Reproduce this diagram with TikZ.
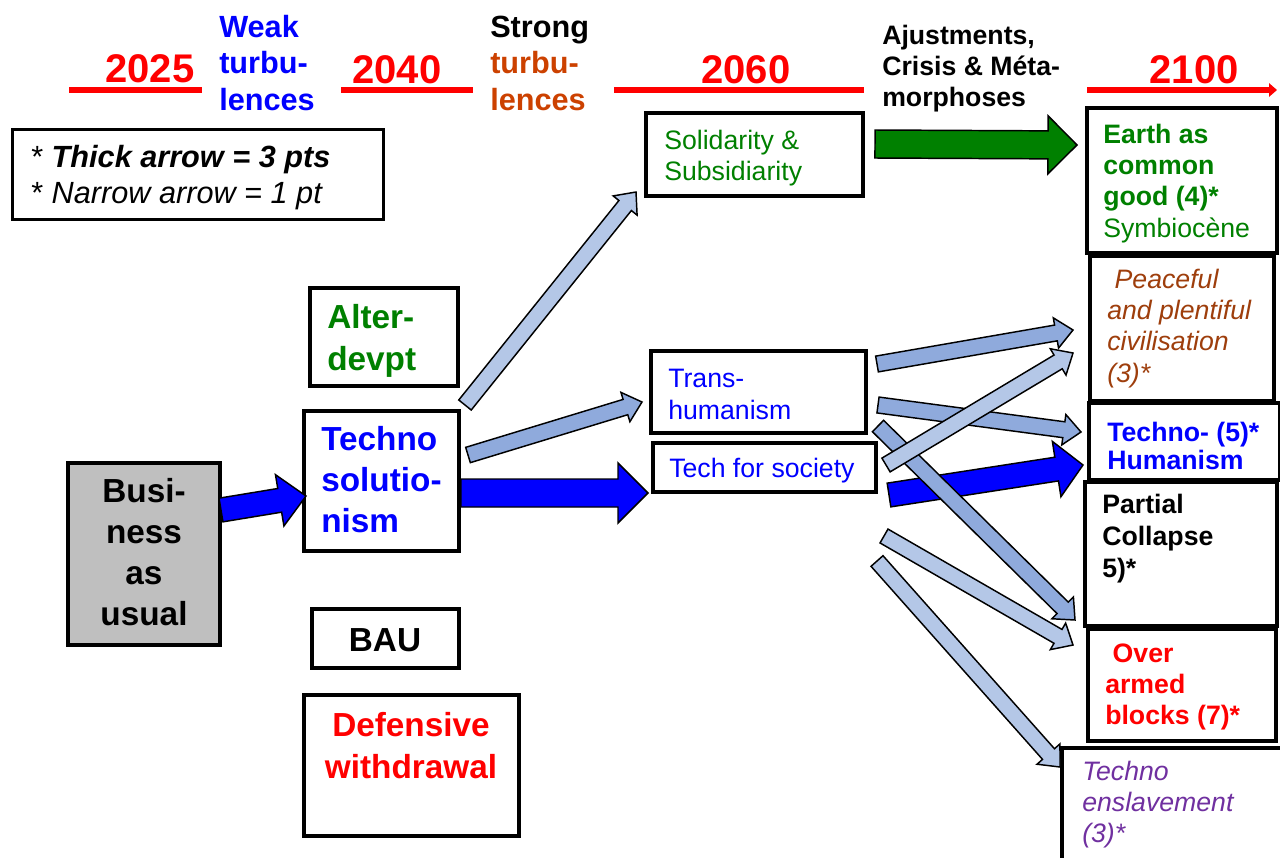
\documentclass[tikz,border=0pt]{standalone}
\usepackage{fontspec}
\setmainfont{Liberation Sans}
\usetikzlibrary{calc,fit,arrows.meta}
\definecolor{myred}{RGB}{255,0,0}
\definecolor{myblue}{RGB}{0,0,255}
\definecolor{mygreen}{RGB}{0,128,0}
\definecolor{orng}{RGB}{204,65,0}
\definecolor{brwn}{RGB}{158,62,12}
\definecolor{purp}{RGB}{112,48,160}
\definecolor{grayfill}{RGB}{191,191,191}
\definecolor{lightarr}{RGB}{180,199,231}
\definecolor{medarr}{RGB}{143,170,220}
\newcommand{\mlL}[2]{\vtop{\baselineskip=#1\lineskiplimit=-100pt\lineskip=0pt\halign{##\hfil\cr#2\crcr}}}
\newcommand{\mlC}[2]{\vtop{\baselineskip=#1\lineskiplimit=-100pt\lineskip=0pt\halign{\hfil##\hfil\cr#2\crcr}}}
% block arrow: from, to, shaft half width, head half width, head length, fill
\newcommand{\blkarrow}[6]{%
  \path ($(#2)!#5!(#1)$) coordinate (hb);
  \filldraw[fill=#6, draw=black, line width=1.1pt, line join=miter]
    ($(#1)!#3!90:(#2)$) -- ($(hb)!#3!90:(#2)$) -- ($(hb)!#4!90:(#2)$) -- (#2)
    -- ($(hb)!#4!-90:(#2)$) -- ($(hb)!#3!-90:(#2)$) -- ($(#1)!#3!-90:(#2)$) -- cycle;
}
\newcommand{\narrarr}[3]{\blkarrow{#1}{#2}{6pt}{11.5pt}{13pt}{#3}}
\begin{document}
\begin{tikzpicture}[x=0.75pt,y=-0.75pt,
  box/.style={draw=black, line width=3pt, inner sep=0pt, fill=white},
  txt/.style={inner sep=0pt, anchor=base west},
  ctxt/.style={inner sep=0pt, anchor=base},
  yearf/.style={font=\fontsize{30pt}{36pt}\selectfont\bfseries, text=myred},
  headf/.style={font=\fontsize{23pt}{27pt}\selectfont\bfseries},
  midbf/.style={font=\fontsize{20pt}{24pt}\selectfont\bfseries},
  midf/.style={font=\fontsize{20pt}{24pt}\selectfont},
  bigf/.style={font=\fontsize{25pt}{30pt}\selectfont\bfseries},
  tline/.style={draw=myred, line width=4.5pt}]
\clip (0,0) rectangle (1280,857);
\fill[white] (0,0) rectangle (1280,857);

% ---------- timeline ----------
\draw[tline] (69,90) -- (202,90);
\draw[tline] (341,90) -- (473,90);
\draw[tline] (614,90) -- (864,90);
\draw[tline, -{Triangle[length=6pt,width=10pt]}] (1087,90) -- (1277,90);
\node[ctxt, yearf] (y2025) at (150,82) {2025};
\node[ctxt, yearf] (y2040) at (397,83) {2040};
\node[ctxt, yearf] (y2060) at (746,83) {2060};
\node[ctxt, yearf] (y2100) at (1194,83) {2100};
\node[txt, headf, text=myblue] (weak) at (219,37) {\mlL{27.4pt}{Weak\cr turbu-\cr lences}};
\node[txt, headf, text=black] (strong) at (490,37) {\mlL{27.4pt}{Strong\cr\textcolor{orng}{turbu-}\cr\textcolor{orng}{lences}}};
\node[txt, midbf, text=black] (ajust) at (882,44) {\mlL{23.6pt}{Ajustments,\cr Crisis \& Méta-\cr morphoses}};

% ---------- legend ----------
\node[box, line width=2.25pt, fit={(12,129) (383,219)}] (legend) {};
\node[txt, font=\fontsize{23pt}{27pt}\selectfont] (leg1) at (31,167) {* \textbf{\textit{Thick arrow = 3 pts}}};
\node[txt, font=\fontsize{23pt}{27pt}\selectfont] (leg2) at (31,203) {* \textit{Narrow arrow = 1 pt}};

% ---------- boxes ----------
\node[box, fit={(646,113) (863,196)}] (solid) {};
\node[box, fit={(310,288) (458,386)}] (alter) {};
\node[box, fit={(304,411) (459,551)}] (techno) {};
\node[box, fill=grayfill, fit={(68,463) (220,645)}] (busi) {};
\node[box, fit={(312,609) (459,668)}] (bau) {};
\node[box, fit={(304,695) (519,836)}] (defens) {};
\node[box, fit={(651,351) (866,433)}] (trans) {};
\node[box, fit={(653,443) (876,492)}] (tfs) {};
\node[box, line width=3.5pt, fit={(1087,108) (1277,253)}] (earth) {};
\node[box, line width=3.5pt, fit={(1090,256) (1274,401)}] (peace) {};
\node[box, line width=3.5pt, fit={(1089,403) (1280,480)}] (th) {};
\node[box, line width=3.5pt, fit={(1085,482) (1277,626)}] (partial) {};
\node[box, line width=3.5pt, fit={(1088,629) (1276,741)}] (over) {};
\node[box, line width=3.5pt, fit={(1062,748) (1285,870)}] (ens) {};

% ---------- arrow end points ----------
\coordinate (bauS) at (221,510);   \coordinate (bauE) at (306,496);
\coordinate (tsS) at (461,493);    \coordinate (tsE) at (648,493);
\coordinate (seS) at (875,144);    \coordinate (seE) at (1077,145);
\coordinate (thS) at (889,495);    \coordinate (thE) at (1083,465);
\coordinate (solS) at (465,405);   \coordinate (solE) at (636,192);
\coordinate (trS) at (468,455);    \coordinate (trE) at (642,402);
\coordinate (aS) at (877,364);     \coordinate (aE) at (1073,330);
\coordinate (bS) at (878,405);     \coordinate (bE) at (1081,432);
\coordinate (cS) at (886,465);     \coordinate (cE) at (1073,353);
\coordinate (dS) at (878,426);     \coordinate (dE) at (1075,620);
\coordinate (fS) at (884,536);     \coordinate (fE) at (1073,645);
\coordinate (gS) at (877,561);     \coordinate (gE) at (1060,767);

% ---------- arrows ----------
\blkarrow{bauS}{bauE}{9pt}{19.5pt}{20pt}{myblue}
\blkarrow{tsS}{tsE}{10.5pt}{22.5pt}{22.5pt}{myblue}
\blkarrow{seS}{seE}{10.5pt}{21.75pt}{21.75pt}{mygreen}
\narrarr{solS}{solE}{lightarr}
\narrarr{trS}{trE}{medarr}
\narrarr{bS}{bE}{medarr}
\blkarrow{thS}{thE}{9pt}{21pt}{20pt}{myblue}
\narrarr{fS}{fE}{lightarr}
\narrarr{dS}{dE}{medarr}
\narrarr{cS}{cE}{lightarr}
\narrarr{aS}{aE}{medarr}
\narrarr{gS}{gE}{lightarr}

% ---------- box texts ----------
\node[txt, midf, text=mygreen] (solidt) at (664,149) {\mlL{23.25pt}{Solidarity \&\cr Subsidiarity}};
\node[txt, bigf, text=mygreen] (altert) at (327,328) {\mlL{31.5pt}{Alter-\cr devpt}};
\node[txt, bigf, text=myblue] (technot) at (321,450) {\mlL{31pt}{Techno\cr solutio-\cr nism}};
\node[ctxt, bigf, text=black] (busit) at (144,502) {\mlC{30.75pt}{Busi-\cr ness\cr as\cr usual}};
\node[ctxt, bigf, text=black] (baut) at (385,651) {BAU};
\node[ctxt, bigf, text=myred] (defenst) at (411,736) {\mlC{31.5pt}{Defensive\cr withdrawal}};
\node[txt, midf, text=myblue] (transt) at (668,387) {\mlL{24pt}{Trans-\cr humanism}};
\node[txt, midf, text=myblue] (tfst) at (669,477) {Tech for society};
\node[txt, midf, text=mygreen] (eartht) at (1103,143) {\mlL{23.6pt}{\textbf{Earth as}\cr\textbf{common}\cr\textbf{good (4)*}\cr Symbiocène}};
\node[txt, midf, text=brwn, font=\fontsize{20pt}{24pt}\selectfont\itshape] (peacet) at (1107,288) {\mlL{23.6pt}{\ Peaceful\cr and plentiful\cr civilisation\cr (3)*}};
\node[txt, midbf, text=myblue] (tht) at (1107,441) {\mlL{21.2pt}{Techno- (5)*\cr Humanism}};
\node[txt, midbf, text=black] (partialt) at (1102,513) {\mlL{24pt}{Partial\cr Collapse\cr 5)*}};
\node[txt, midbf, text=myred] (overt) at (1105,662) {\mlL{23.6pt}{\ Over\cr armed\cr blocks (7)*}};
\node[txt, text=purp, font=\fontsize{20pt}{24pt}\selectfont\itshape] (enst) at (1082,780) {\mlL{23.6pt}{Techno\cr enslavement\cr (3)*}};
\end{tikzpicture}
\end{document}
